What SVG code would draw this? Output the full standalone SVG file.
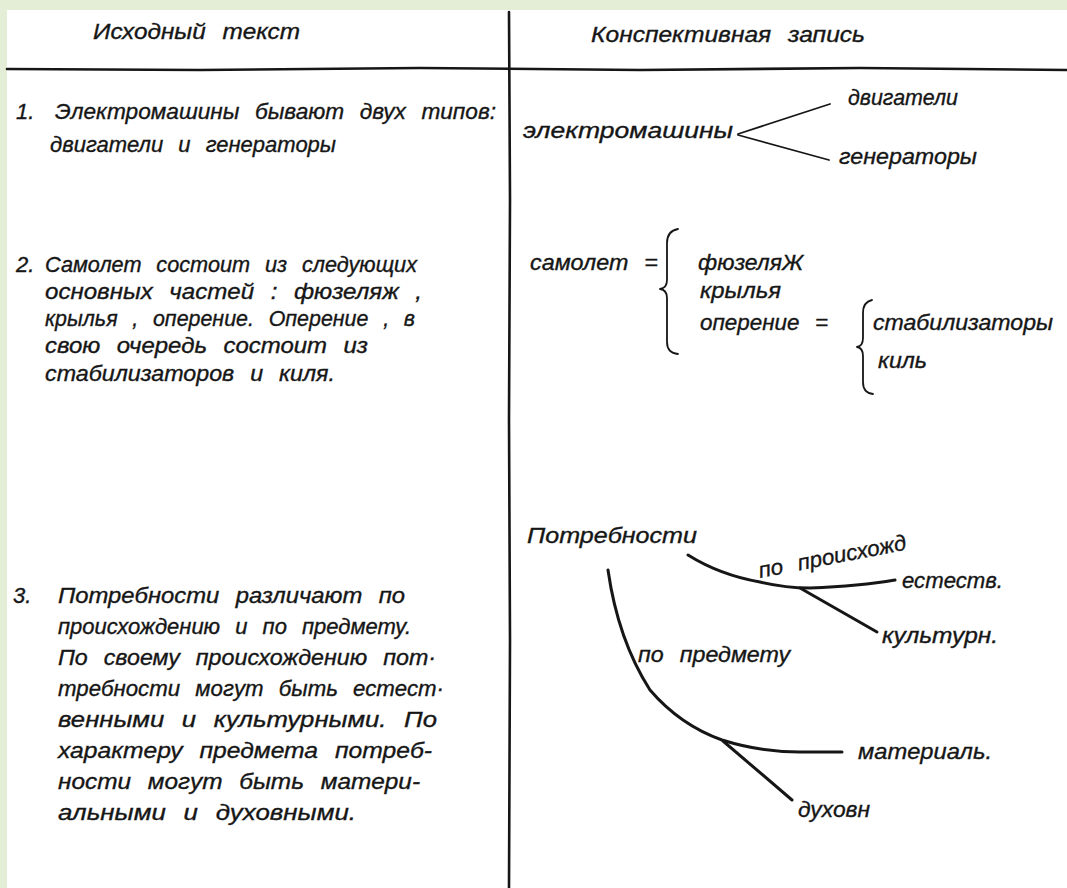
<svg xmlns="http://www.w3.org/2000/svg" width="1067" height="888" viewBox="0 0 1067 888">
<style>
text{font-family:"Liberation Sans","DejaVu Sans",sans-serif;font-style:italic;font-size:22px;fill:#161616;stroke:#161616;stroke-width:0.35;word-spacing:9px}
.ln{fill:none;stroke:#161616;stroke-linecap:round;stroke-linejoin:round}
.thin{stroke-width:1.8}
.thick{stroke-width:3}
.rule{stroke-width:2.6}
</style>
<rect x="0" y="0" width="1067" height="888" fill="#e4edd5"/>
<rect x="7" y="10" width="1060" height="878" fill="#ffffff"/>
<g id="table">
<path class="ln rule" d="M7,69 L200,70 L420,68 L640,70 L860,68 L1067,70"/>
<path class="ln rule" d="M509,12 L510,200 L509,420 L510,640 L509,888"/>
</g>
<g id="headers">
<text x="93" y="39" textLength="207" lengthAdjust="spacingAndGlyphs">Исходный текст</text>
<text x="591" y="42" textLength="274" lengthAdjust="spacingAndGlyphs">Конспективная запись</text>
</g>
<g id="source-1">
<text x="16" y="119">1.</text>
<text x="55" y="119" textLength="441" lengthAdjust="spacingAndGlyphs">Электромашины бывают двух типов:</text>
<text x="50" y="152">двигатели и генераторы</text>
</g>
<g id="source-2">
<text x="16" y="272">2.</text>
<text x="45" y="272" textLength="372" lengthAdjust="spacingAndGlyphs">Самолет состоит из следующих</text>
<text x="45" y="299" textLength="377" lengthAdjust="spacingAndGlyphs">основных частей : фюзеляж ,</text>
<text x="45" y="326" textLength="370" lengthAdjust="spacingAndGlyphs">крылья , оперение. Оперение , в</text>
<text x="45" y="353" textLength="323" lengthAdjust="spacingAndGlyphs">свою очередь состоит из</text>
<text x="45" y="381" textLength="290" lengthAdjust="spacingAndGlyphs">стабилизаторов и киля.</text>
</g>
<g id="source-3">
<text x="13" y="603">3.</text>
<text x="58" y="603" textLength="347" lengthAdjust="spacingAndGlyphs">Потребности различают по</text>
<text x="58" y="634" textLength="353" lengthAdjust="spacingAndGlyphs">происхождению и по предмету.</text>
<text x="58" y="665" textLength="378" lengthAdjust="spacingAndGlyphs">По своему происхождению пот·</text>
<text x="58" y="696" textLength="386" lengthAdjust="spacingAndGlyphs">требности могут быть естест·</text>
<text x="58" y="727" textLength="379" lengthAdjust="spacingAndGlyphs">венными и культурными. По</text>
<text x="58" y="758" textLength="374" lengthAdjust="spacingAndGlyphs">характеру предмета потреб-</text>
<text x="58" y="789" textLength="362" lengthAdjust="spacingAndGlyphs">ности могут быть матери-</text>
<text x="58" y="820" textLength="298" lengthAdjust="spacingAndGlyphs">альными и духовными.</text>
</g>
<g id="summary-1">
<text x="523" y="138" textLength="210" lengthAdjust="spacingAndGlyphs">электромашины</text>
<text x="848" y="105" textLength="110" lengthAdjust="spacingAndGlyphs">двигатели</text>
<text x="839" y="164" textLength="138" lengthAdjust="spacingAndGlyphs">генераторы</text>
</g>
<g id="summary-2">
<text x="530" y="270" textLength="128" lengthAdjust="spacingAndGlyphs">самолет =</text>
<text x="698" y="270" textLength="105" lengthAdjust="spacingAndGlyphs">фюзеляЖ</text>
<text x="700" y="298" textLength="81" lengthAdjust="spacingAndGlyphs">крылья</text>
<text x="700" y="330" textLength="128" lengthAdjust="spacingAndGlyphs">оперение =</text>
<text x="873" y="330" textLength="180" lengthAdjust="spacingAndGlyphs">стабилизаторы</text>
<text x="878" y="368" textLength="49" lengthAdjust="spacingAndGlyphs">киль</text>
</g>
<g id="summary-3">
<text x="527" y="543" textLength="170" lengthAdjust="spacingAndGlyphs">Потребности</text>
<text x="760" y="578" transform="rotate(-11 760 578)" textLength="150" lengthAdjust="spacingAndGlyphs">по происхожд</text>
<text x="902" y="588" textLength="101" lengthAdjust="spacingAndGlyphs">естеств.</text>
<text x="882" y="643" textLength="116" lengthAdjust="spacingAndGlyphs">культурн.</text>
<text x="638" y="662" textLength="152" lengthAdjust="spacingAndGlyphs">по предмету</text>
<text x="858" y="759" textLength="134" lengthAdjust="spacingAndGlyphs">материаль.</text>
<text x="798" y="817" textLength="72" lengthAdjust="spacingAndGlyphs">духовн</text>
</g>
<g id="connectors">
<path class="ln thin" d="M738,134 L830,104"/>
<path class="ln thin" d="M738,135 L829,160"/>
<path class="ln thin" d="M678,229 Q667,231 667,243 L667,280 Q667,288 660,289 Q667,290 667,298 L667,342 Q667,353 678,354"/>
<path class="ln thin" d="M872,300 Q863,302 863,313 L863,338 Q863,346 857,347 Q863,348 863,356 L863,382 Q863,393 873,394"/>
<path class="ln thick" d="M688,555 Q720,575 760,582 Q785,588 810,588 Q860,586 895,580"/>
<path class="ln thick" d="M800,588 L877,632"/>
<path class="ln thick" d="M608,570 Q618,640 650,690 Q680,725 722,740 Q760,752 800,752 L842,752"/>
<path class="ln thick" d="M723,741 L792,800"/>
</g>
</svg>
